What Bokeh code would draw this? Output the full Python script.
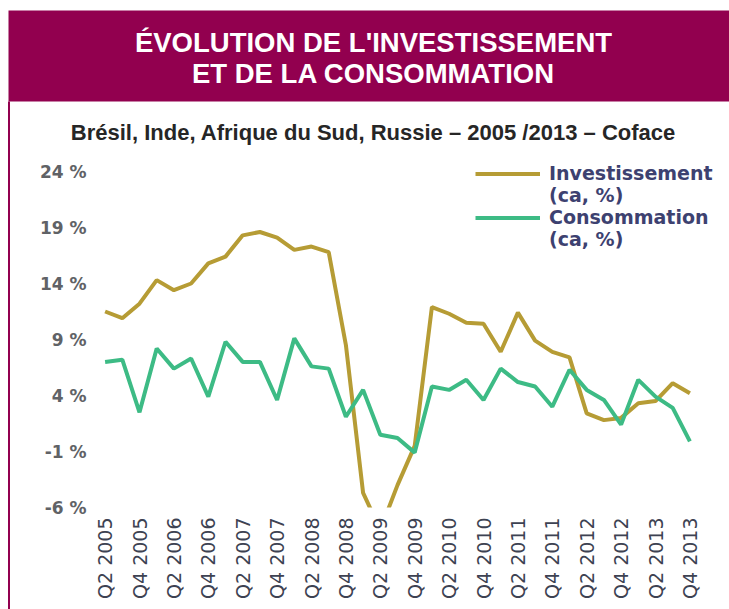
import math
from bokeh.plotting import figure
from bokeh.models import Range1d, Legend, LegendItem
from bokeh.embed import file_html
from bokeh.resources import INLINE
from bokeh.core.properties import value

# ---------------- data ----------------
quarters = [
    "Q2 2005", "Q3 2005", "Q4 2005",
    "Q1 2006", "Q2 2006", "Q3 2006", "Q4 2006",
    "Q1 2007", "Q2 2007", "Q3 2007", "Q4 2007",
    "Q1 2008", "Q2 2008", "Q3 2008", "Q4 2008",
    "Q1 2009", "Q2 2009", "Q3 2009", "Q4 2009",
    "Q1 2010", "Q2 2010", "Q3 2010", "Q4 2010",
    "Q1 2011", "Q2 2011", "Q3 2011", "Q4 2011",
    "Q1 2012", "Q2 2012", "Q3 2012", "Q4 2012",
    "Q1 2013", "Q2 2013", "Q3 2013", "Q4 2013",
]
investissement = [11.5, 10.9, 12.2, 14.3, 13.4, 14.0, 15.8, 16.4, 18.3, 18.6,
                  18.1, 17.0, 17.3, 16.8, 8.5, -4.7, -8.0, -4.0, -0.5, 11.9,
                  11.3, 10.5, 10.4, 7.9, 11.4, 8.9, 7.9, 7.4, 2.4, 1.8,
                  2.0, 3.3, 3.5, 5.1, 4.2]
consommation = [7.0, 7.2, 2.5, 8.2, 6.4, 7.3, 3.9, 8.8, 7.0, 7.0,
                3.6, 9.1, 6.6, 6.4, 2.1, 4.5, 0.5, 0.2, -1.1, 4.8,
                4.5, 5.4, 3.6, 6.4, 5.2, 4.8, 3.0, 6.3, 4.5, 3.6,
                1.4, 5.4, 3.9, 2.9, -0.1]
y_ticks = [-6, -1, 4, 9, 14, 19, 24]
y_tick_labels = ["-6 %", "-1 %", "4 %", "9 %", "14 %", "19 %", "24 %"]
title_lines = ["ÉVOLUTION DE L'INVESTISSEMENT", "ET DE LA CONSOMMATION"]
subtitle = "Brésil, Inde, Afrique du Sud, Russie – 2005 /2013  – Coface"
series_names = ["Investissement", "Consommation"]
unit_label = "(ca, %)"

MAROON = "#92004f"
GOLD = "#b69c35"
GREEN = "#3dbb85"

W, H = 729, 609
# chart area geometry (pixels): first/last quarter and the -6 / 24 levels
X0, DX = 104.6, 17.2
Y24, DY = 171.0, 11.2
Y_MIN, Y_MAX = y_ticks[0], y_ticks[-1]

# one figure whose frame is the whole page; page layout in pixel units,
# the data drawn through extra (quarter, percent) scales
p = figure(width=W, height=H, x_range=Range1d(0, W), y_range=Range1d(H, 0),
           output_backend="svg", toolbar_location=None, min_border=0,
           x_axis_location=None, y_axis_location=None)
p.grid.visible = False
p.outline_line_color = None
p.background_fill_color = "white"
p.extra_x_ranges = {"q": Range1d(-X0 / DX, (W - X0) / DX)}
p.extra_y_ranges = {"pct": Range1d(Y_MAX - (H - Y24) / DY, Y_MAX + Y24 / DY)}

xs = list(range(len(quarters)))
r1 = p.line(xs, investissement, line_color=GOLD, line_width=4,
            x_range_name="q", y_range_name="pct")
r2 = p.line(xs, consommation, line_color=GREEN, line_width=4,
            x_range_name="q", y_range_name="pct")

# plot-area lower edge: hide what falls below the -6 % floor (clipping)
p.quad(left=[xs[0] - 1], right=[xs[-1] + 1], top=[Y_MIN], bottom=[Y_MIN - 12],
       x_range_name="q", y_range_name="pct", fill_color="white", line_color=None)

# y tick labels
p.text(x=[xs[0] - 0.5] * len(y_ticks), y=y_ticks, text=y_tick_labels,
       x_range_name="q", y_range_name="pct", x_offset=-10,
       text_align="right", text_baseline="middle",
       text_font=value("DejaVu Sans"), text_font_style="bold",
       text_font_size="17px", text_color="#606266")

# x tick labels (every other quarter, vertical)
p.text(x=xs[::2], y=[Y_MIN] * len(xs[::2]), text=quarters[::2],
       x_range_name="q", y_range_name="pct", y_offset=10, angle=math.pi / 2,
       text_align="right", text_baseline="middle",
       text_font=value("DejaVu Sans"), text_font_size="19px",
       text_color="#3d4252")

# header banner, title and subtitle, left border rule
p.quad(left=[8], right=[W], top=[10], bottom=[101], fill_color=MAROON, line_color=None)
p.quad(left=[7.5], right=[9.5], top=[101], bottom=[H], fill_color=MAROON, line_color=None)
p.text(x=[373, 373], y=[42, 73], text=title_lines, text_align="center",
       text_baseline="middle", text_font=value("Liberation Sans"),
       text_font_style="bold", text_font_size="27.5px", text_color="white")
p.text(x=[376], y=[132], text=[subtitle], text_align="center",
       text_baseline="middle", text_font=value("Liberation Sans"),
       text_font_style="bold", text_font_size="22px", text_color="#262626")

legend = Legend(items=[LegendItem(label=series_names[0], renderers=[r1]),
                       LegendItem(label=unit_label, renderers=[]),
                       LegendItem(label=series_names[1], renderers=[r2]),
                       LegendItem(label=unit_label, renderers=[])],
                location=(475, H - 250), glyph_width=65, glyph_height=21,
                label_height=21, label_standoff=9, padding=0, margin=0, spacing=0,
                border_line_color=None, background_fill_alpha=0,
                label_text_font="DejaVu Sans", label_text_font_style="bold",
                label_text_font_size="19px", label_text_color="#3d4170")
p.add_layout(legend)

open("out.html", "w").write(file_html(p, INLINE))
